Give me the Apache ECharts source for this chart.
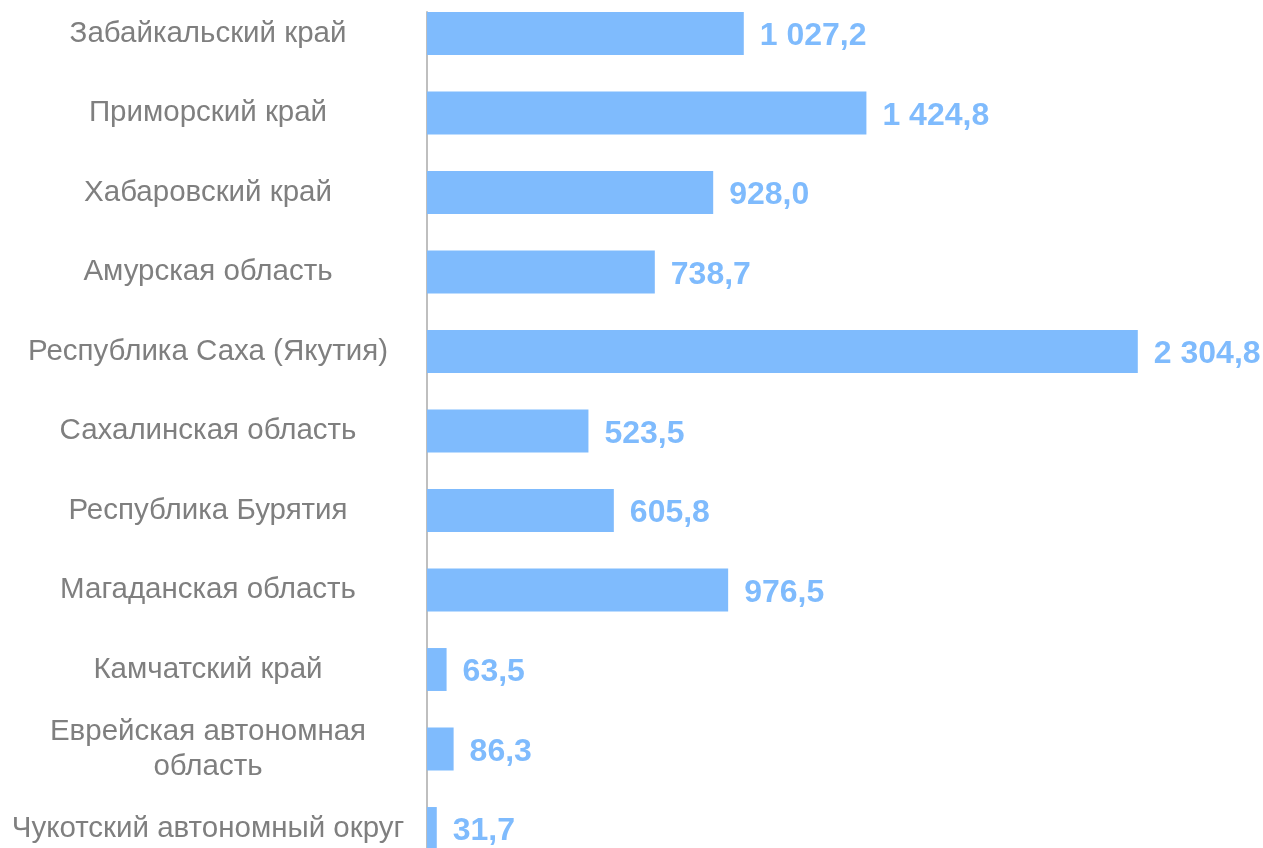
<!DOCTYPE html>
<html><head><meta charset="utf-8">
<script src="https://cdn.jsdelivr.net/npm/echarts@6/dist/echarts.min.js"></script>
<style>html,body{margin:0;padding:0;background:#fff}#c{width:1263px;height:848px}</style>
</head><body><div id="c"></div>
<script>
const categories = [
  'Забайкальский край',
  'Приморский край',
  'Хабаровский край',
  'Амурская область',
  'Республика Саха (Якутия)',
  'Сахалинская область',
  'Республика Бурятия',
  'Магаданская область',
  'Камчатский край',
  'Еврейская автономная\nобласть',
  'Чукотский автономный округ'
];
const values = [1027.2, 1424.8, 928.0, 738.7, 2304.8, 523.5, 605.8, 976.5, 63.5, 86.3, 31.7];

function fmt(v) {
  const parts = v.toFixed(1).split('.');
  const int = parts[0].replace(/\B(?=(\d{3})+(?!\d))/g, ' ');
  return int + ',' + parts[1];
}

const chart = echarts.init(document.getElementById('c'));
chart.setOption({
  animation: false,
  grid: [
    { left: 427, right: 65, top: -6.25, bottom: -20.25, outerBoundsMode: 'none', containLabel: false },
    { left: 427, right: 65, top: 12, bottom: 0, outerBoundsMode: 'none', containLabel: false }
  ],
  xAxis: [
    { type: 'value', min: 0, max: 2500, gridIndex: 0, show: false },
    { type: 'value', min: 0, max: 2500, gridIndex: 1, show: false }
  ],
  yAxis: [
    {
      type: 'category', gridIndex: 0, inverse: true, data: categories,
      axisLine: { show: false }, axisTick: { show: false },
      axisLabel: {
        margin: 219, align: 'center', color: '#7f7f7f',
        fontFamily: 'Liberation Sans, Arial, sans-serif', fontSize: 29.5, lineHeight: 35
      }
    },
    {
      type: 'category', gridIndex: 1, inverse: true, data: categories,
      axisLine: { show: true, lineStyle: { color: '#bfbfbf', width: 2 } },
      axisTick: { show: false }, axisLabel: { show: false }
    }
  ],
  series: [{
    type: 'bar', xAxisIndex: 0, yAxisIndex: 0, data: values,
    barCategoryGap: '46%',
    itemStyle: { color: '#7fbbfd' },
    label: {
      show: true, position: 'right', distance: 16, offset: [0, 3],
      color: '#7fbbfd', fontWeight: 'bold', fontSize: 32,
      fontFamily: 'Liberation Sans, Arial, sans-serif',
      formatter: p => fmt(p.value)
    }
  }]
});
</script></body></html>
